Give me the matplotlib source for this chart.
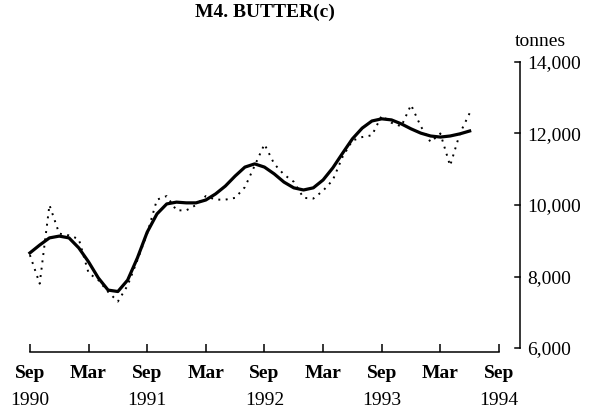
"""Recreation of the M4. BUTTER(c) stocks chart."""

import matplotlib
matplotlib.use("Agg")
import matplotlib.pyplot as plt
from matplotlib.transforms import blended_transform_factory

# months counted from Sep 1990
month_index = list(range(46))

raw_tonnes = [
    8600, 7800, 10000, 9200, 9150, 9050, 8100, 7900, 7570, 7300,
    7750, 8460, 9200, 10150, 10250, 9850, 9850, 10000, 10250, 10150,
    10150, 10200, 10500, 11100, 11700, 11150, 10850, 10650, 10200, 10180,
    10400, 10700, 11350, 11800, 11900, 11950, 12500, 12300, 12200, 12800,
    12200, 11760, 12000, 11100, 12000, 12570,
]

trend_tonnes = [
    8660, 8880, 9080, 9130, 9080, 8800, 8410, 7960, 7620, 7580,
    7900, 8520, 9240, 9750, 10030, 10080, 10060, 10060, 10140, 10310,
    10530, 10810, 11060, 11150, 11060, 10870, 10640, 10480, 10420, 10480,
    10700, 11040, 11450, 11850, 12150, 12350, 12410, 12380, 12270, 12130,
    12010, 11930, 11900, 11930, 11990, 12070,
]

tick_months = [0, 6, 12, 18, 24, 30, 36, 42, 48]
tick_names = ["Sep", "Mar", "Sep", "Mar", "Sep", "Mar", "Sep", "Mar", "Sep"]
year_months = [0, 12, 24, 36, 48]
year_labels = ["1990", "1991", "1992", "1993", "1994"]
y_ticks = [6000, 8000, 10000, 12000, 14000]

plt.rcParams["font.family"] = ["Liberation Serif", "DejaVu Serif"]

fig = plt.figure(figsize=(5.97, 4.16), dpi=100)
ax = fig.add_axes([0.0452, 0.1538, 0.871 - 0.0452, 0.851 - 0.1538])

ax.plot(month_index, raw_tonnes, color="black", linewidth=1.4,
        linestyle=(0, (1, 2.8)))
ax.plot(month_index, trend_tonnes, color="black", linewidth=2.3,
        solid_joinstyle="round")

ax.set_xlim(-0.3, 50.15)
ax.set_ylim(5888, 14000)

for side in ("top", "left"):
    ax.spines[side].set_visible(False)
ax.spines["bottom"].set_bounds(0, 48)
ax.spines["right"].set_bounds(6000, 14000)
ax.spines["bottom"].set_linewidth(1.1)
ax.spines["right"].set_linewidth(1.1)

ax.set_xticks(tick_months)
ax.set_xticklabels(tick_names, fontsize=14, fontweight="bold")
ax.tick_params(axis="x", direction="in", length=6, width=1.1, pad=9)

ax.yaxis.tick_right()
ax.set_yticks(y_ticks)
ax.set_yticklabels([f"{v:,}" for v in y_ticks], fontsize=14)
ax.tick_params(axis="y", direction="out", length=0, pad=5)
# short ticks pointing left of the right spine
for v in y_ticks:
    ax.plot([49.65, 50.15], [v, v], color="black", linewidth=1.1,
            clip_on=False)

trans = blended_transform_factory(ax.transData, ax.transAxes)
for m, lab in zip(year_months, year_labels):
    ax.text(m, -0.138, lab, transform=trans, ha="center", va="top",
            fontsize=14)

fig.text(265 / 597, 1 - 12 / 416, "M4. BUTTER(c)", ha="center", va="center",
         fontsize=14, fontweight="bold")
fig.text(540 / 597, 1 - 42 / 416, "tonnes", ha="center", va="center",
         fontsize=14)

fig.savefig("out.png", dpi=100)
